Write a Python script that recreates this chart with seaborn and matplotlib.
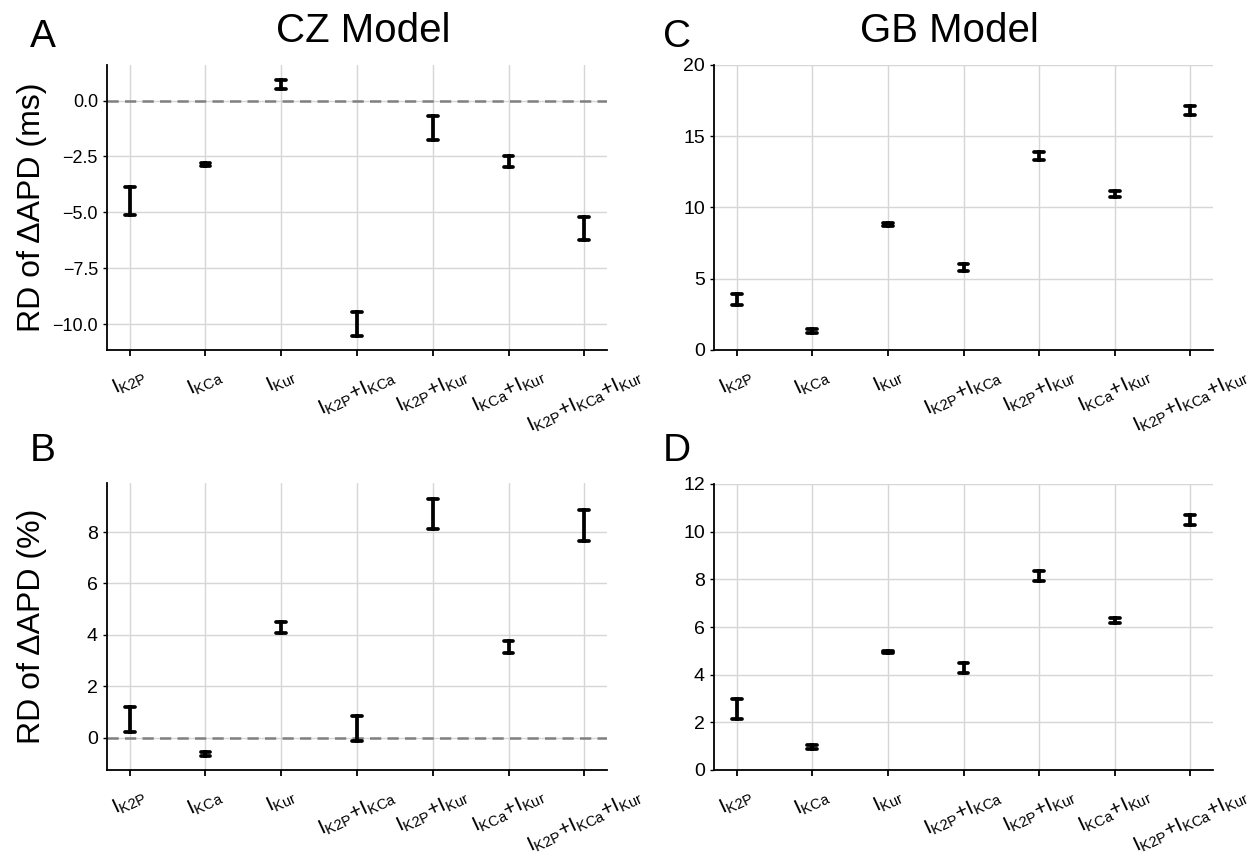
import numpy as np
import pandas as pd
import matplotlib
matplotlib.use("Agg")
import matplotlib.pyplot as plt
import seaborn as sns

# ---------------- data ----------------
categories = [
    r"$\mathregular{I_{K2P}}$",
    r"$\mathregular{I_{KCa}}$",
    r"$\mathregular{I_{Kur}}$",
    r"$\mathregular{I_{K2P}{+}I_{KCa}}$",
    r"$\mathregular{I_{K2P}{+}I_{Kur}}$",
    r"$\mathregular{I_{KCa}{+}I_{Kur}}$",
    r"$\mathregular{I_{K2P}{+}I_{KCa}{+}I_{Kur}}$",
]

cz_ms_mean = [-4.48, -2.87, 0.71, -10.00, -1.24, -2.72, -5.74]
cz_ms_err = [0.62, 0.08, 0.19, 0.53, 0.54, 0.24, 0.51]

cz_pct_mean = [0.72, -0.63, 4.29, 0.36, 8.70, 3.54, 8.26]
cz_pct_err = [0.49, 0.07, 0.22, 0.50, 0.58, 0.23, 0.59]

gb_ms_mean = [3.53, 1.32, 8.79, 5.77, 13.63, 10.95, 16.82]
gb_ms_err = [0.37, 0.15, 0.09, 0.26, 0.29, 0.23, 0.33]

gb_pct_mean = [2.57, 0.96, 4.96, 4.28, 8.13, 6.27, 10.48]
gb_pct_err = [0.41, 0.08, 0.04, 0.20, 0.20, 0.12, 0.20]

# ---------------- style ----------------
sns.set_style("whitegrid", {
    "axes.edgecolor": "black",
    "grid.color": "#d6d6d6",
    "xtick.bottom": True,
    "ytick.left": True,
    "xtick.color": "black",
    "ytick.color": "black",
    "text.color": "black",
    "axes.labelcolor": "black",
})
plt.rcParams["font.family"] = ["Liberation Sans", "DejaVu Sans"]
plt.rcParams["mathtext.fontset"] = "custom"
plt.rcParams["mathtext.rm"] = "Liberation Sans"
plt.rcParams["axes.linewidth"] = 1.3
plt.rcParams["xtick.major.size"] = 4
plt.rcParams["ytick.major.size"] = 3
plt.rcParams["xtick.major.width"] = 1.3
plt.rcParams["ytick.major.width"] = 1.0

W, H = 1257, 864
fig = plt.figure(figsize=(W / 100, H / 100), dpi=100)


def make_ax(l, t, r, b):
    return fig.add_axes([l / W, 1 - b / H, (r - l) / W, (b - t) / H])


axA = make_ax(107, 65, 607, 350)
axB = make_ax(107, 483, 607, 770)
axC = make_ax(714, 65, 1213, 350)
axD = make_ax(714, 484, 1213, 770)


def panel(ax, means, errs):
    means = np.asarray(means)
    errs = np.asarray(errs)
    df = pd.DataFrame({
        "cat": categories * 2,
        "val": np.concatenate([means - errs, means + errs]),
    })
    sns.pointplot(
        data=df, x="cat", y="val", order=categories,
        estimator="mean", errorbar=lambda v: (v.min(), v.max()),
        marker="", linestyle="none", color="black",
        capsize=0.13, err_kws={"linewidth": 2.7, "color": "black"},
        ax=ax,
    )
    ax.set_xlim(-0.3, 6.3)
    ax.grid(True, axis="both", linewidth=1.0)
    ax.set_axisbelow(True)
    ax.set_xlabel("")
    ax.set_ylabel("")
    sns.despine(ax=ax)
    ax.tick_params(axis="x", labelsize=15, pad=7)
    ax.tick_params(axis="y", labelsize=14)
    for lab in ax.get_xticklabels():
        lab.set_rotation(25)
        lab.set_ha("center")


panel(axA, cz_ms_mean, cz_ms_err)
panel(axB, cz_pct_mean, cz_pct_err)
panel(axC, gb_ms_mean, gb_ms_err)
panel(axD, gb_pct_mean, gb_pct_err)

for ax in (axA, axB):
    ax.axhline(0, color="#808080", linestyle="--", linewidth=1.8, dashes=(4.5, 2.5), zorder=1)

axA.set_ylim(-11.16, 1.59)
axA.set_yticks([-10, -7.5, -5, -2.5, 0])
axA.set_yticklabels(["\u221210.0", "\u22127.5", "\u22125.0", "\u22122.5", "0.0"])
axA.tick_params(axis="y", labelsize=13)
axB.set_ylim(-1.26, 9.91)
axB.set_yticks([0, 2, 4, 6, 8])
axC.set_ylim(0, 20)
axC.set_yticks([0, 5, 10, 15, 20])
axD.set_ylim(0, 12)
axD.set_yticks([0, 2, 4, 6, 8, 10, 12])

axA.set_ylabel("RD of ΔAPD (ms)", fontsize=23, labelpad=4)
axB.set_ylabel("RD of ΔAPD (%)", fontsize=23, labelpad=29)

fig.text(363 / W, 1 - 42 / H, "CZ Model", fontsize=29, ha="center", va="baseline")
fig.text(949 / W, 1 - 42 / H, "GB Model", fontsize=29, ha="center", va="baseline")
for letter, x, y in (("A", 30, 47), ("C", 663, 47), ("B", 30, 461), ("D", 663, 461)):
    fig.text(x / W, 1 - y / H, letter, fontsize=28, ha="left", va="baseline")

fig.savefig("out.png", dpi=100)
